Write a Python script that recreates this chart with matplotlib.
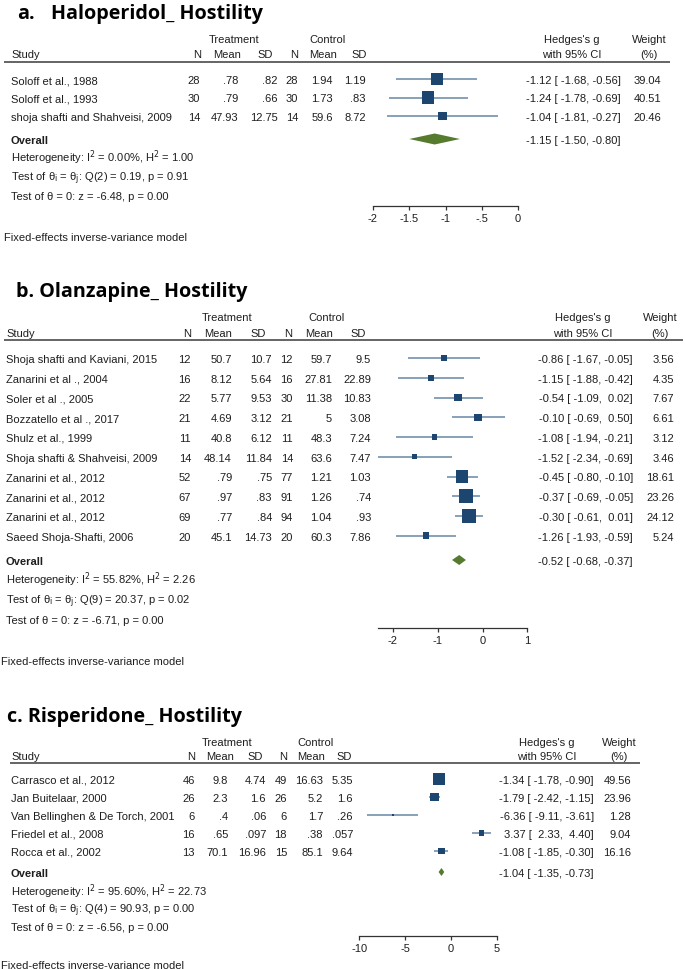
import matplotlib
matplotlib.use("Agg")
import matplotlib.pyplot as plt
import numpy as np

plt.rcParams['font.family'] = ['Liberation Sans Narrow', 'Liberation Sans', 'DejaVu Sans']
plt.rcParams['mathtext.fontset'] = 'custom'
plt.rcParams['mathtext.rm'] = 'Liberation Sans Narrow'

W, H = 685, 970
FS = 8.0
TXT = '#1e1e1e'
SQ = '#1c4670'
CI_COL = '#7390ad'
DIA = '#567a2e'
TITLE_FONT = ['Open Sans', 'DejaVu Sans']

# ---- a. Haloperidol ----
a_title = ["a.", "Haloperidol_ Hostility"]
a_study = ["Soloff et al., 1988", "Soloff et al., 1993", "shoja shafti and Shahveisi, 2009"]
a_n1 = [28, 30, 14]
a_m1 = [.78, .79, 47.93]
a_sd1 = [.82, .66, 12.75]
a_n2 = [28, 30, 14]
a_m2 = [1.94, 1.73, 59.6]
a_sd2 = [1.19, .83, 8.72]
a_g = [-1.12, -1.24, -1.04]
a_lo = [-1.68, -1.78, -1.81]
a_hi = [-0.56, -0.69, -0.27]
a_w = [39.04, 40.51, 20.46]
a_overall = [-1.15, -1.50, -0.80]
a_het = [0.00, 1.00]
a_q = [2, 0.19, 0.91]
a_z = [-6.48, 0.00]
a_ticks = [-2, -1.5, -1, -0.5, 0]

# ---- b. Olanzapine ----
b_title = ["b. Olanzapine_ Hostility"]
b_study = ["Shoja shafti and Kaviani, 2015", "Zanarini et al ., 2004", "Soler et al ., 2005",
           "Bozzatello et al ., 2017", "Shulz et al., 1999", "Shoja shafti & Shahveisi, 2009",
           "Zanarini et al., 2012", "Zanarini et al., 2012", "Zanarini et al., 2012",
           "Saeed Shoja-Shafti, 2006"]
b_n1 = [12, 16, 22, 21, 11, 14, 52, 67, 69, 20]
b_m1 = [50.7, 8.12, 5.77, 4.69, 40.8, 48.14, .79, .97, .77, 45.1]
b_sd1 = [10.7, 5.64, 9.53, 3.12, 6.12, 11.84, .75, .83, .84, 14.73]
b_n2 = [12, 16, 30, 21, 11, 14, 77, 91, 94, 20]
b_m2 = [59.7, 27.81, 11.38, 5, 48.3, 63.6, 1.21, 1.26, 1.04, 60.3]
b_sd2 = [9.5, 22.89, 10.83, 3.08, 7.24, 7.47, 1.03, .74, .93, 7.86]
b_g = [-0.86, -1.15, -0.54, -0.10, -1.08, -1.52, -0.45, -0.37, -0.30, -1.26]
b_lo = [-1.67, -1.88, -1.09, -0.69, -1.94, -2.34, -0.80, -0.69, -0.61, -1.93]
b_hi = [-0.05, -0.42, 0.02, 0.50, -0.21, -0.69, -0.10, -0.05, 0.01, -0.59]
b_w = [3.56, 4.35, 7.67, 6.61, 3.12, 3.46, 18.61, 23.26, 24.12, 5.24]
b_overall = [-0.52, -0.68, -0.37]
b_het = [55.82, 2.26]
b_q = [9, 20.37, 0.02]
b_z = [-6.71, 0.00]
b_ticks = [-2, -1, 0, 1]

# ---- c. Risperidone ----
c_title = ["c. Risperidone_ Hostility"]
c_study = ["Carrasco et al., 2012", "Jan Buitelaar, 2000", "Van Bellinghen & De Torch, 2001",
           "Friedel et al., 2008", "Rocca et al., 2002"]
c_n1 = [46, 26, 6, 16, 13]
c_m1 = [9.8, 2.3, .4, .65, 70.1]
c_sd1 = [4.74, 1.6, .06, .097, 16.96]
c_n2 = [49, 26, 6, 18, 15]
c_m2 = [16.63, 5.2, 1.7, .38, 85.1]
c_sd2 = [5.35, 1.6, .26, .057, 9.64]
c_g = [-1.34, -1.79, -6.36, 3.37, -1.08]
c_lo = [-1.78, -2.42, -9.11, 2.33, -1.85]
c_hi = [-0.90, -1.15, -3.61, 4.40, -0.30]
c_w = [49.56, 23.96, 1.28, 9.04, 16.16]
c_overall = [-1.04, -1.35, -0.73]
c_het = [95.60, 22.73]
c_q = [4, 90.93, 0.00]
c_z = [-6.56, 0.00]
c_ticks = [-10, -5, 0, 5]


def stata(v):
    s = f"{v:g}"
    if s.startswith("-0."):
        s = "-" + s[2:]
    elif s.startswith("0."):
        s = s[1:]
    return s


fig = plt.figure(figsize=(W / 100, H / 100), dpi=100)
base = fig.add_axes([0, 0, 1, 1])
base.set_xlim(0, W)
base.set_ylim(H, 0)
base.axis('off')


def txt(x, y, s, ha='left', bold=False, size=FS, **kw):
    # y is the visual middle of capitals; convert to baseline
    base.text(x, y + size * 0.5, s, ha=ha, va='baseline', fontsize=size, color=TXT,
              fontweight='bold' if bold else 'normal', **kw)


def panel(title, study, n1, m1, sd1, n2, m2, sd2, g, lo, hi, w, overall, het, q, z, ticks, L):
    # title
    for tx, part in zip(L['title_x'], title):
        base.text(tx, L['title_y'] + 6.8, part, ha='left', va='baseline',
                  fontsize=14.2, fontweight='bold', family=TITLE_FONT, color='black')
    # header
    y1, y2 = L['hdr']
    txt(L['treat_x'], y1, "Treatment", ha='center')
    txt(L['ctrl_x'], y1, "Control", ha='center')
    txt(L['hg_x'], y1, "Hedges's g", ha='center')
    txt(L['wt_hx'], y1, "Weight", ha='center')
    txt(L['study_x'], y2, "Study")
    for hx, lab in zip(L['hcols'], ["N", "Mean", "SD", "N", "Mean", "SD"]):
        txt(hx, y2, lab, ha='center')
    txt(L['hg_x'], y2, "with 95% CI", ha='center')
    txt(L['wt_hx'], y2, "(%)", ha='center')
    base.plot(L['rule_x'], [L['rule_y']] * 2, color='#4a4a4a', lw=1.2, solid_capstyle='butt')

    n = len(study)
    ys = L['row0'] + L['dy'] * np.arange(n)
    cols = [n1, m1, sd1, n2, m2, sd2]
    for i in range(n):
        txt(L['study_x'], ys[i], study[i])
        for cx, col in zip(L['vcols'], cols):
            txt(cx, ys[i], stata(col[i]), ha='right')
        txt(L['ci_x'], ys[i], f"{g[i]:.2f} [{lo[i]:6.2f},{hi[i]:6.2f}]", ha='right')
        txt(L['wt_x'], ys[i], f"{w[i]:.2f}", ha='right')

    yo = L['overall_y']
    txt(L['study_x'], yo, "Overall", bold=True)
    txt(L['ci_x'], yo, f"{overall[0]:.2f} [{overall[1]:6.2f},{overall[2]:6.2f}]", ha='right')
    sy = L['stats_y']
    txt(L['study_x'], sy[0], f"Heterogeneity: I$^\\mathrm{{2}}$ = {het[0]:.2f}%, H$^\\mathrm{{2}}$ = {het[1]:.2f}")
    txt(L['study_x'], sy[1], f"Test of θ$_\\mathrm{{i}}$ = θ$_\\mathrm{{j}}$: Q({q[0]}) = {q[1]:.2f}, p = {q[2]:.2f}")
    txt(L['study_x'], sy[2], f"Test of θ = 0: z = {z[0]:.2f}, p = {z[1]:.2f}")
    txt(L['fixed_x'], L['fixed_y'], "Fixed-effects inverse-variance model")

    # forest axes
    ay, top = L['axis_y'], L['top']
    ax = fig.add_axes([0, 1 - ay / H, 1, (ay - top) / H])
    ax.patch.set_alpha(0)
    ax.set_xlim(-L['zero'] / L['scale'], (W - L['zero']) / L['scale'])
    ax.set_ylim(ay, top)
    for s in ['top', 'left', 'right']:
        ax.spines[s].set_visible(False)
    ax.spines['bottom'].set_bounds(min(min(lo), ticks[0]), ticks[-1])
    ax.spines['bottom'].set_color('#333333')
    ax.spines['bottom'].set_linewidth(0.9)
    ax.set_yticks([])
    ax.set_xticks(ticks)
    ax.set_xticklabels([stata(t) for t in ticks])
    ax.tick_params(axis='x', direction='out', length=3, width=0.9, pad=2,
                   labelsize=FS, labelcolor=TXT, color='#333333')
    ax.hlines(ys, lo, hi, color=CI_COL, lw=1.2, zorder=2)
    side = L['k'] * np.sqrt(np.array(w)) * 0.72
    ax.scatter(g, ys, s=side ** 2, marker='s', color=SQ, linewidths=0, zorder=3)
    h = L['dh'] / 2
    ax.fill([overall[1], overall[0], overall[2], overall[0]], [yo, yo - h, yo, yo + h],
            color=DIA, lw=0, zorder=3)


La = dict(title_x=[17, 51], title_y=12, hdr=(39, 54), treat_x=234, ctrl_x=328, hg_x=572, wt_hx=649,
          study_x=11, hcols=[197, 227, 265, 294, 323, 359], vcols=[200, 238, 278, 298, 333, 366],
          rule_x=[4, 670], rule_y=63, row0=80, dy=18.5, overall_y=140, stats_y=[158, 177, 196],
          ci_x=621, wt_x=661, fixed_x=4, fixed_y=237, axis_y=207, top=63,
          zero=518, scale=72.5, k=1.92, dh=11)
Lb = dict(title_x=[16], title_y=290, hdr=(317, 333), treat_x=227, ctrl_x=327, hg_x=583, wt_hx=660,
          study_x=6, hcols=[187, 218, 258, 288, 319, 358], vcols=[191, 232, 272, 293, 332, 371],
          rule_x=[4, 683], rule_y=341, row0=359, dy=19.75, overall_y=561, stats_y=[580, 600, 620],
          ci_x=633, wt_x=674, fixed_x=1, fixed_y=661, axis_y=629, top=341,
          zero=482.5, scale=44.8, k=2.85, dh=10)
Lc = dict(title_x=[7], title_y=715, hdr=(742, 756), treat_x=227, ctrl_x=316, hg_x=547, wt_hx=619,
          study_x=11, hcols=[191, 220, 255, 283, 311, 344], vcols=[195, 228, 266, 287, 323, 353],
          rule_x=[10, 640], rule_y=764, row0=780, dy=18, overall_y=873, stats_y=[892, 909, 927],
          ci_x=594, wt_x=631, fixed_x=1, fixed_y=965, axis_y=937, top=764,
          zero=451, scale=9.18, k=1.7, dh=8)

panel(a_title, a_study, a_n1, a_m1, a_sd1, a_n2, a_m2, a_sd2, a_g, a_lo, a_hi, a_w,
      a_overall, a_het, a_q, a_z, a_ticks, La)
panel(b_title, b_study, b_n1, b_m1, b_sd1, b_n2, b_m2, b_sd2, b_g, b_lo, b_hi, b_w,
      b_overall, b_het, b_q, b_z, b_ticks, Lb)
panel(c_title, c_study, c_n1, c_m1, c_sd1, c_n2, c_m2, c_sd2, c_g, c_lo, c_hi, c_w,
      c_overall, c_het, c_q, c_z, c_ticks, Lc)

fig.savefig("out.png", dpi=100, facecolor='white')
